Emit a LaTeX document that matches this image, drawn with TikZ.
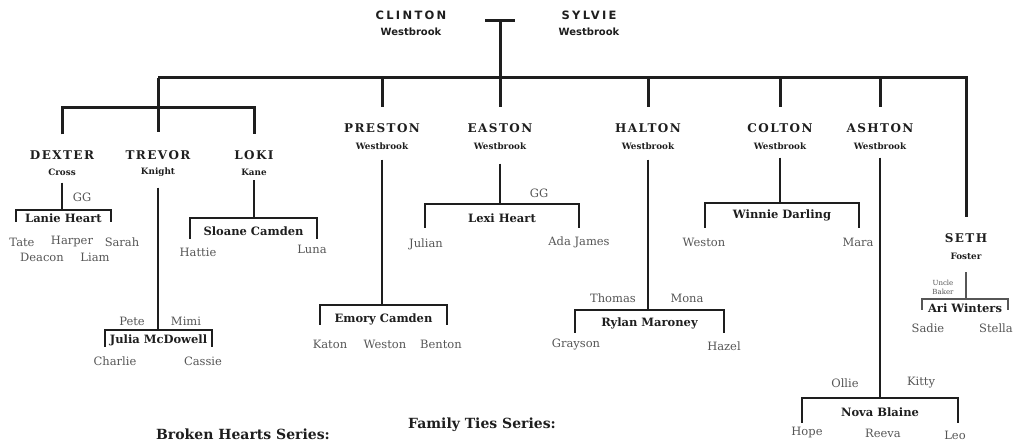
\documentclass[tikz,border=0pt]{standalone}
\usepackage{fontspec}
\setmainfont{DejaVu Serif}
\setsansfont{DejaVu Sans}

\definecolor{ink}{HTML}{1E1E1E}
\definecolor{soft}{HTML}{555555}

\tikzset{
  bar/.style={draw=ink,line width=3pt},
  sbar/.style={draw=ink,line width=2.4pt},
  thinbar/.style={draw=ink!75,line width=1.2pt},
  topname/.style={inner sep=0pt,text=ink,font=\sffamily\bfseries\fontsize{11.5}{13}\selectfont\addfontfeature{LetterSpace=20}},
  topsur/.style={inner sep=0pt,text=ink,font=\sffamily\bfseries\fontsize{10}{12}\selectfont},
  sonname/.style={inner sep=0pt,text=ink,font=\bfseries\fontsize{12}{14}\selectfont\addfontfeature{LetterSpace=12}},
  sonsur/.style={inner sep=0pt,text=ink,font=\bfseries\fontsize{8.8}{10}\selectfont},
  partner/.style={inner sep=0pt,text=ink,font=\bfseries\fontsize{11.5}{13}\selectfont},
  kid/.style={inner sep=0pt,text=soft,font=\fontsize{11.5}{13}\selectfont},
  tinykid/.style={inner sep=0pt,text=soft,align=center,font=\fontsize{7}{9}\selectfont},
  series/.style={inner sep=0pt,text=ink,font=\bfseries\fontsize{14}{16}\selectfont}
}

\begin{document}
\begin{tikzpicture}[x=1pt,y=-1pt]
\useasboundingbox (0,0) rectangle (1013,443);

\node[topname] (clinton) at (411,15) {CLINTON};
\node[topsur] (clintonS) at (411,32) {Westbrook};
\node[topname] (sylvie) at (589,15) {SYLVIE};
\node[topsur] (sylvieS) at (589,32) {Westbrook};

\coordinate (tL) at (485,21);
\coordinate (tR) at (515,21);
\coordinate (bus) at (500,78);
\coordinate (busL) at (158,78);
\coordinate (busR) at (966,78);
\coordinate (fork) at (158,108);

\node[sonname] (dexter) at (62,155) {DEXTER};
\node[sonsur] (cross) at (62,172) {Cross};
\node[sonname] (trevor) at (158,155) {TREVOR};
\node[sonsur] (knight) at (158,172) {Knight};
\node[sonname] (loki) at (254,155) {LOKI};
\node[sonsur] (kane) at (254,172) {Kane};
\node[sonname] (preston) at (382,128) {PRESTON};
\node[sonsur] (prestonS) at (382,146) {Westbrook};
\node[sonname] (easton) at (500,128) {EASTON};
\node[sonsur] (eastonS) at (500,146) {Westbrook};
\node[sonname] (halton) at (648,128) {HALTON};
\node[sonsur] (haltonS) at (648,146) {Westbrook};
\node[sonname] (colton) at (780,128) {COLTON};
\node[sonsur] (coltonS) at (780,146) {Westbrook};
\node[sonname] (ashton) at (880,128) {ASHTON};
\node[sonsur] (ashtonS) at (880,146) {Westbrook};
\node[sonname] (seth) at (966,238) {SETH};
\node[sonsur] (foster) at (966,256) {Foster};

\draw[bar] (tL) -- (tR);
\draw[bar] (tL -| bus) -- (bus);
\draw[bar,shorten >=16pt] (busL) -- (busR) -- (busR |- seth.north);
\draw[bar,shorten >=18pt] (busL) -- (busL |- trevor.north);
\draw[bar,shorten <=16pt,shorten >=16pt] (dexter.north) |- (fork) -| (loki.north);
\foreach \n in {preston,easton,halton,colton,ashton}
  \draw[bar,shorten >=16pt] (busL -| \n.north) -- (\n.north);

\node[partner] (lanie) at (63.5,218) {Lanie Heart};
\node[partner] (julia) at (158.5,340) {Julia McDowell};
\node[partner] (sloane) at (253.5,231) {Sloane Camden};
\node[partner] (emory) at (383.5,319) {Emory Camden};
\node[partner] (lexi) at (502,218) {Lexi Heart};
\node[partner] (rylan) at (649.5,323) {Rylan Maroney};
\node[partner] (winnie) at (782,215) {Winnie Darling};
\node[partner] (nova) at (880,412) {Nova Blaine};
\node[partner] (ari) at (965,308) {Ari Winters};

\foreach \who/\mate/\hw/\ut/\db/\gp in {cross/lanie/47.5/8/4/7, knight/julia/53.5/10/7/11,
    kane/sloane/63.5/13/8/5, prestonS/emory/63.5/14/6/10, eastonS/lexi/77/14/10/14,
    haltonS/rylan/74.5/13/10/10, coltonS/winnie/77/12/13/8, ashtonS/nova/78/14/11/8}{
  \coordinate (top) at ([yshift=\ut pt]\mate.center);
  \draw[sbar] ([yshift=-\gp pt]\who.south) -- (\who.south |- top);
  \draw[sbar] ([shift={(-\hw,\db)}]\mate.center) -- ([shift={(-\hw,-\ut)}]\mate.center)
    -- ([shift={(\hw,-\ut)}]\mate.center) -- ([shift={(\hw,\db)}]\mate.center);
}

\coordinate (aritop) at ([yshift=9pt]ari.center);
\draw[thinbar] ([yshift=-13pt]foster.south) -- (foster.south |- aritop);
\draw[thinbar] ([shift={(-43,2)}]ari.center) -- ([shift={(-43,-9)}]ari.center)
  -- ([shift={(43,-9)}]ari.center) -- ([shift={(43,2)}]ari.center);

\node[kid] (ggD) at (82,197) {GG};
\node[kid] (tate) at (22,242) {Tate};
\node[kid] (harper) at (72,242) {Harper};
\node[kid] (sarah) at (122,242) {Sarah};
\node[kid] (deacon) at (42,257) {Deacon};
\node[kid] (liam) at (95,257) {Liam};

\node[kid] (pete) at (132,321) {Pete};
\node[kid] (mimi) at (186,321) {Mimi};
\node[kid] (charlie) at (115,361) {Charlie};
\node[kid] (cassie) at (203,361) {Cassie};

\node[kid] (hattie) at (198,252) {Hattie};
\node[kid] (luna) at (312,249) {Luna};

\node[kid] (katon) at (330,344) {Katon};
\node[kid] (westonP) at (385,344) {Weston};
\node[kid] (benton) at (441,344) {Benton};

\node[kid] (ggE) at (539,193) {GG};
\node[kid] (julian) at (426,244) {Julian};
\node[kid] (ada) at (579,242) {Ada James};

\node[kid] (thomas) at (613,298) {Thomas};
\node[kid] (mona) at (687,298) {Mona};
\node[kid] (grayson) at (576,345) {Grayson};
\node[kid] (hazel) at (724,346) {Hazel};

\node[kid] (westonC) at (704,242) {Weston};
\node[kid] (mara) at (858,242) {Mara};

\node[kid] (ollie) at (845,383) {Ollie};
\node[kid] (kitty) at (921,383) {Kitty};
\node[kid] (hope) at (807,433) {Hope};
\node[kid] (reeva) at (883,433) {Reeva};
\node[kid] (leo) at (955,435) {Leo};

\node[tinykid] (uncle) at (943,287) {Uncle\\Baker};
\node[kid] (sadie) at (928,328) {Sadie};
\node[kid] (stella) at (996,328) {Stella};

\node[series] (broken) at (243,434) {Broken Hearts Series:};
\node[series] (family) at (482,425) {Family Ties Series:};
\end{tikzpicture}
\end{document}
